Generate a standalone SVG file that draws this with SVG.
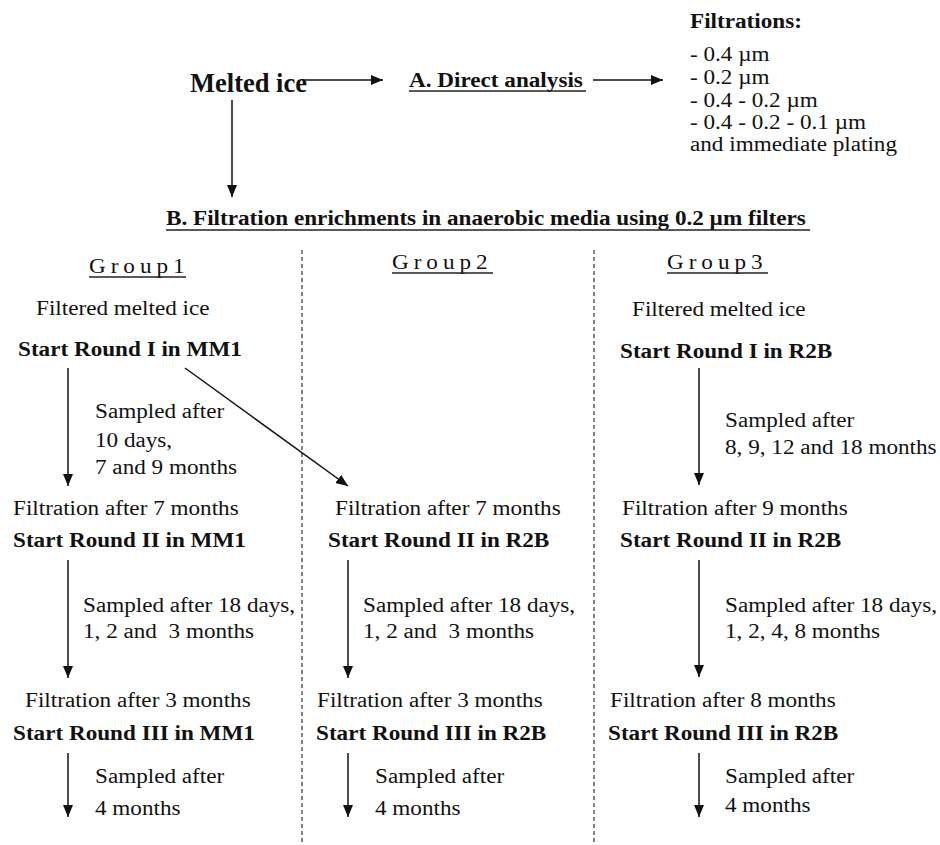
<svg xmlns="http://www.w3.org/2000/svg" width="940" height="845" viewBox="0 0 940 845">
<style>
.t{font-family:"Liberation Serif","Times New Roman",serif;font-size:20.5px;fill:#111;white-space:pre}
.b{font-weight:bold}
.big{font-family:"Liberation Serif","Times New Roman",serif;font-size:26.5px;font-weight:bold;fill:#111}
.gl{letter-spacing:4.4px}
.ul{stroke:#222;stroke-width:1.3}
.c{stroke:#111;stroke-width:1.5;fill:none}
.d{stroke:#444;stroke-width:1.3;stroke-dasharray:4 3;fill:none}
</style>
<defs>
<marker id="ah" viewBox="0 0 12 10" refX="12" refY="5" markerWidth="12" markerHeight="10" markerUnits="userSpaceOnUse" orient="auto">
<path d="M0,0 L12,5 L0,10 Z" fill="#111"/>
</marker>
</defs>
<rect width="940" height="845" fill="#fff"/>

<g id="dividers">
<line class="d" x1="302" y1="250" x2="302" y2="845"/>
<line class="d" x1="594" y1="250" x2="594" y2="845"/>
</g>

<g id="connectors">
<line class="c" x1="303" y1="80" x2="383" y2="80" marker-end="url(#ah)"/>
<line class="c" x1="593" y1="80" x2="663" y2="80" marker-end="url(#ah)"/>
<line class="c" x1="232" y1="100" x2="232" y2="197" marker-end="url(#ah)"/>
<line class="c" x1="68" y1="368" x2="68" y2="486" marker-end="url(#ah)"/>
<line class="c" x1="68" y1="560" x2="68" y2="678" marker-end="url(#ah)"/>
<line class="c" x1="68" y1="753" x2="68" y2="817" marker-end="url(#ah)"/>
<line class="c" x1="185" y1="368" x2="348" y2="486" marker-end="url(#ah)"/>
<line class="c" x1="348" y1="560" x2="348" y2="678" marker-end="url(#ah)"/>
<line class="c" x1="348" y1="753" x2="348" y2="817" marker-end="url(#ah)"/>
<line class="c" x1="699" y1="368" x2="699" y2="485" marker-end="url(#ah)"/>
<line class="c" x1="699" y1="560" x2="699" y2="677" marker-end="url(#ah)"/>
<line class="c" x1="699" y1="753" x2="699" y2="817" marker-end="url(#ah)"/>
</g>

<g id="melted-ice">
<text class="big" x="190" y="92">Melted ice</text>
</g>

<g id="direct-analysis">
<text class="t b" transform="translate(409 87) scale(1.13 1)">A. Direct analysis</text>
<line class="ul" x1="409" y1="91" x2="586" y2="91"/>
</g>

<g id="filtrations">
<text class="t b" transform="translate(690 28) scale(1.13 1)">Filtrations:</text>
<text class="t" transform="translate(690 61) scale(1.13 1)">- 0.4 µm</text>
<text class="t" transform="translate(690 84) scale(1.13 1)">- 0.2 µm</text>
<text class="t" transform="translate(690 107) scale(1.13 1)">- 0.4 - 0.2 µm</text>
<text class="t" transform="translate(690 129) scale(1.13 1)">- 0.4 - 0.2 - 0.1 µm</text>
<text class="t" transform="translate(690 151) scale(1.13 1)">and immediate plating</text>
</g>

<g id="filtration-enrichments">
<text class="t b" transform="translate(166 225) scale(1.13 1)">B. Filtration enrichments in anaerobic media using 0.2 µm filters</text>
<line class="ul" x1="166" y1="230" x2="810" y2="230"/>
</g>

<g id="group1-label">
<text class="t gl" transform="translate(89 273) scale(1.13 1)">Group1</text>
<line class="ul" x1="89" y1="277" x2="186" y2="277"/>
</g>
<g id="group2-label">
<text class="t gl" transform="translate(392 269) scale(1.13 1)">Group2</text>
<line class="ul" x1="392" y1="273" x2="493" y2="273"/>
</g>
<g id="group3-label">
<text class="t gl" transform="translate(667 269) scale(1.13 1)">Group3</text>
<line class="ul" x1="667" y1="273" x2="768" y2="273"/>
</g>

<g id="g1-round1">
<text class="t" transform="translate(36 315) scale(1.13 1)">Filtered melted ice</text>
<text class="t b" transform="translate(18 356) scale(1.13 1)">Start Round I in MM1</text>
</g>
<g id="g1-sample1">
<text class="t" transform="translate(95 418) scale(1.13 1)">Sampled after</text>
<text class="t" transform="translate(95 447) scale(1.13 1)">10 days,</text>
<text class="t" transform="translate(95 474) scale(1.13 1)">7 and 9 months</text>
</g>
<g id="g1-round2">
<text class="t" transform="translate(13 515) scale(1.13 1)">Filtration after 7 months</text>
<text class="t b" transform="translate(13 547) scale(1.13 1)">Start Round II in MM1</text>
</g>
<g id="g1-sample2">
<text class="t" transform="translate(83 612) scale(1.13 1)">Sampled after 18 days,</text>
<text class="t" transform="translate(83 638) scale(1.13 1)">1, 2 and  3 months</text>
</g>
<g id="g1-round3">
<text class="t" transform="translate(25 707) scale(1.13 1)">Filtration after 3 months</text>
<text class="t b" transform="translate(13 740) scale(1.13 1)">Start Round III in MM1</text>
</g>
<g id="g1-sample3">
<text class="t" transform="translate(95 783) scale(1.13 1)">Sampled after</text>
<text class="t" transform="translate(95 815) scale(1.13 1)">4 months</text>
</g>

<g id="g2-round2">
<text class="t" transform="translate(335 515) scale(1.13 1)">Filtration after 7 months</text>
<text class="t b" transform="translate(328 547) scale(1.13 1)">Start Round II in R2B</text>
</g>
<g id="g2-sample2">
<text class="t" transform="translate(363 612) scale(1.13 1)">Sampled after 18 days,</text>
<text class="t" transform="translate(363 638) scale(1.13 1)">1, 2 and  3 months</text>
</g>
<g id="g2-round3">
<text class="t" transform="translate(317 707) scale(1.13 1)">Filtration after 3 months</text>
<text class="t b" transform="translate(316 740) scale(1.13 1)">Start Round III in R2B</text>
</g>
<g id="g2-sample3">
<text class="t" transform="translate(375 783) scale(1.13 1)">Sampled after</text>
<text class="t" transform="translate(375 815) scale(1.13 1)">4 months</text>
</g>

<g id="g3-round1">
<text class="t" transform="translate(632 316) scale(1.13 1)">Filtered melted ice</text>
<text class="t b" transform="translate(620 358) scale(1.13 1)">Start Round I in R2B</text>
</g>
<g id="g3-sample1">
<text class="t" transform="translate(725 427) scale(1.13 1)">Sampled after</text>
<text class="t" transform="translate(725 454) scale(1.13 1)">8, 9, 12 and 18 months</text>
</g>
<g id="g3-round2">
<text class="t" transform="translate(622 515) scale(1.13 1)">Filtration after 9 months</text>
<text class="t b" transform="translate(620 547) scale(1.13 1)">Start Round II in R2B</text>
</g>
<g id="g3-sample2">
<text class="t" transform="translate(725 612) scale(1.13 1)">Sampled after 18 days,</text>
<text class="t" transform="translate(725 638) scale(1.13 1)">1, 2, 4, 8 months</text>
</g>
<g id="g3-round3">
<text class="t" transform="translate(610 707) scale(1.13 1)">Filtration after 8 months</text>
<text class="t b" transform="translate(608 740) scale(1.13 1)">Start Round III in R2B</text>
</g>
<g id="g3-sample3">
<text class="t" transform="translate(725 783) scale(1.13 1)">Sampled after</text>
<text class="t" transform="translate(725 812) scale(1.13 1)">4 months</text>
</g>
</svg>
